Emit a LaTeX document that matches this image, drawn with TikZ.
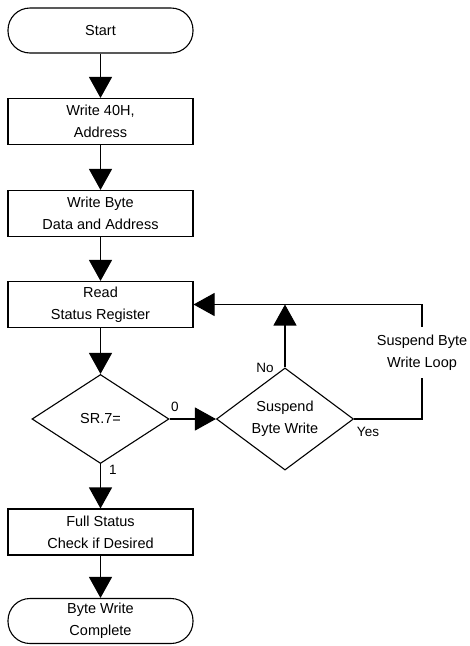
\documentclass[tikz,border=0pt]{standalone}
\usepackage{fontspec}
\setmainfont{Liberation Sans}
\usetikzlibrary{arrows.meta,shapes.geometric}

\begin{document}
\begin{tikzpicture}[
    x=1pt, y=-1pt,
    every node/.style={font=\fontsize{14.5}{22}\selectfont},
    box/.style={draw, line width=1.1pt, minimum width=185pt, minimum height=46pt, align=center, inner sep=0pt},
    term/.style={box, rounded corners=22pt, minimum height=45pt},
    test/.style={draw, diamond, line width=1.1pt, inner sep=0pt, align=center,
        minimum width=137pt, minimum height=89pt},
    flow/.style={-{Triangle[width=23pt,length=21pt]}, line width=1.1pt},
    tag/.style={font=\fontsize{13.5}{14}\selectfont}
]

\def\Xc{100.5}     % x of the main column
\def\Xs{285}       % x of the suspend test
\def\Xl{422}       % x of the loop line

\useasboundingbox (0,0) rectangle (470,646);

\node[term] (start) at (\Xc,30.5) {Start};
\node[box] (addr) at (\Xc,121.5) {Write 40H,\\Address};
\node[box] (data) at (\Xc,213.5) {Write Byte\\Data and Address};
\node[box] (read) at (\Xc,304.5) {Read\\Status Register};
\node[test] (sr) at (\Xc,419) {SR.7=};
\node[test] (sus) at (\Xs,419) {Suspend\\Byte Write};
\node[box] (full) at (\Xc,532) {Full Status\\Check if Desired};
\node[term] (done) at (\Xc,621) {Byte Write\\Complete};

\node[align=center, inner sep=0pt, minimum height=51pt] (loop) at (\Xl,352.5)
    {Suspend Byte\\Write Loop};

\draw[flow] (start) -- (addr);
\draw[flow] (addr) -- (data);
\draw[flow] (data) -- (read);
\draw[flow] (read) -- (sr);
\draw[flow] (sr) -- (full);
\draw[flow] (full) -- (done);
\draw[flow] (sr.east) -- (sus.west);
\draw[flow] (sus.north) -- (sus.north |- read.east);
\draw[line width=1.1pt] (sus.east) -| (loop.south);
\draw[flow] (loop.north) |- (read.east);

\node[tag] (zero) at (175,407) {0};
\node[tag] (one) at (113,470) {1};
\node[tag] (no) at (265,368) {No};
\node[tag] (yes) at (368,432) {Yes};
\end{tikzpicture}
\end{document}
